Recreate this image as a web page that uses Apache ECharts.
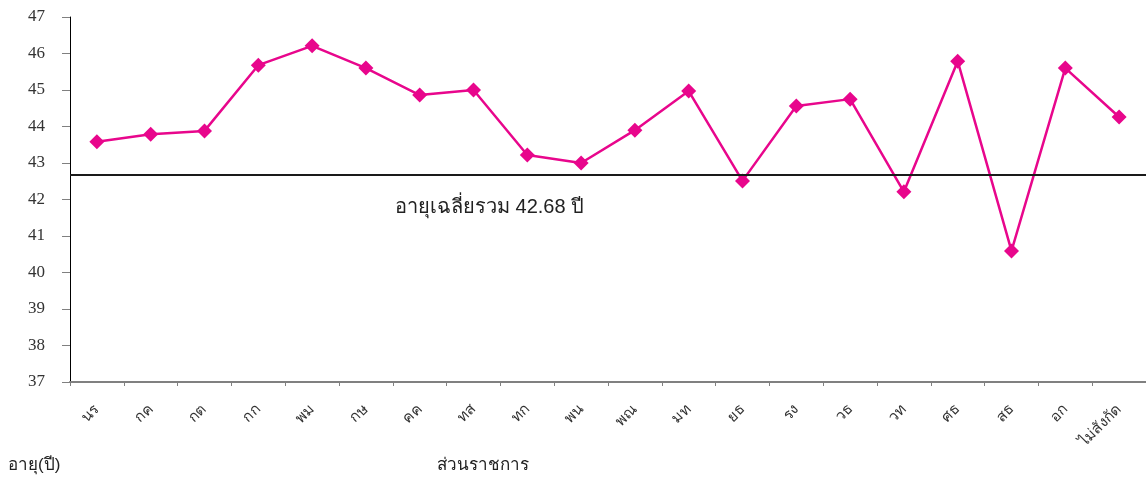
<!DOCTYPE html>
<html>
<head>
<meta charset="utf-8">
<style>
  html, body { margin: 0; padding: 0; background: #fff; }
  #chart { width: 1146px; height: 479px; }
</style>
<script src="https://cdn.jsdelivr.net/npm/echarts@6/dist/echarts.min.js"></script>
</head>
<body>
<div id="chart"></div>
<script>
// Government agencies (abbreviations) along the x axis
const agencies = ['นร', 'กค', 'กต', 'กก', 'พม', 'กษ', 'คค', 'ทส', 'ทก', 'พน',
                  'พณ', 'มท', 'ยธ', 'รง', 'วธ', 'วท', 'ศธ', 'สธ', 'อก', 'ไม่สังกัด'];
// Average age per agency (years)
const avgAge = [43.58, 43.79, 43.88, 45.68, 46.21, 45.60, 44.86, 45.00, 43.22, 43.00,
                43.90, 44.97, 42.51, 44.56, 44.75, 42.21, 45.79, 40.59, 45.60, 44.26];
// Overall average age
const overallAvg = 42.68;
// Y axis range
const yMin = 37, yMax = 47, yStep = 1;

const thaiFont = '"Liberation Sans", "Noto Sans", "DejaVu Sans", sans-serif';
const chart = echarts.init(document.getElementById('chart'), null, { renderer: 'canvas' });

chart.setOption({
  animation: false,
  backgroundColor: '#ffffff',
  grid: { left: 70, right: 0, top: 17, bottom: 97, containLabel: false },
  xAxis: {
    type: 'category',
    data: agencies,
    boundaryGap: true,
    axisLine: { lineStyle: { color: '#808080', width: 2 } },
    axisTick: { show: true, length: 4, lineStyle: { color: '#808080', width: 1 } },
    axisLabel: {
      rotate: 45,
      interval: 0,
      color: '#333',
      fontSize: 15,
      fontFamily: thaiFont,
      margin: 25
    },
    splitLine: { show: false }
  },
  yAxis: {
    type: 'value',
    min: yMin,
    max: yMax,
    interval: yStep,
    axisLine: { show: true, lineStyle: { color: '#000', width: 1 } },
    axisTick: { show: true, length: 8, lineStyle: { color: '#808080', width: 1 } },
    axisLabel: {
      color: '#333',
      fontSize: 17,
      fontFamily: '"Liberation Serif", "Times New Roman", serif',
      margin: 25
    },
    splitLine: { show: false }
  },
  series: [{
    type: 'line',
    data: avgAge,
    symbol: 'diamond',
    symbolSize: 15,
    lineStyle: { color: '#E8068C', width: 2.5 },
    itemStyle: { color: '#E8068C' },
    markLine: {
      silent: true,
      symbol: ['none', 'none'],
      lineStyle: { color: '#1a1a1a', width: 2, type: 'solid' },
      label: {
        show: true,
        position: 'insideStartBottom',
        distance: [325, 23],
        formatter: 'อายุเฉลี่ยรวม ' + overallAvg.toFixed(2) + ' ปี',
        color: '#222',
        fontSize: 20,
        fontFamily: thaiFont
      },
      data: [{ yAxis: overallAvg }]
    }
  }],
  graphic: [
    {
      type: 'text', left: 8, top: 457,
      style: { text: 'อายุ(ปี)', fill: '#222', font: '17px ' + thaiFont }
    },
    {
      type: 'text', left: 437, top: 457,
      style: { text: 'ส่วนราชการ', fill: '#222', font: '17px ' + thaiFont }
    }
  ]
});
</script>
</body>
</html>
